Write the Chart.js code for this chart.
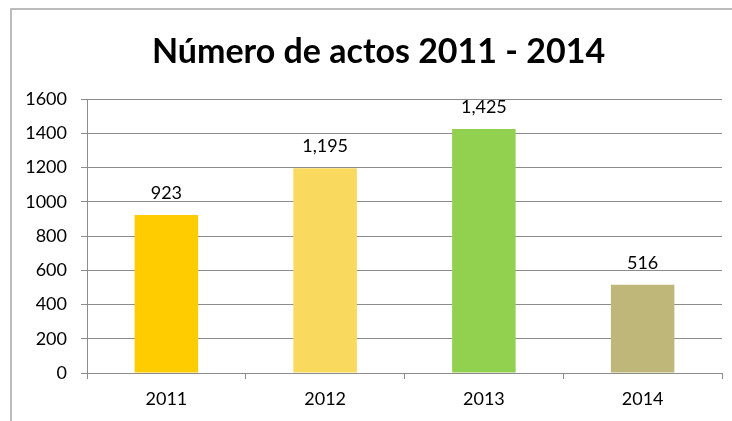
<!DOCTYPE html>
<html>
<head>
<meta charset="utf-8">
<script src="https://cdn.jsdelivr.net/npm/chart.js@4.4.1/dist/chart.umd.min.js"></script>
<style>
html,body{margin:0;padding:0;background:#fff;}
#wrap{width:732px;height:421px;}
</style>
</head>
<body>
<div id="wrap"><canvas id="c" width="732" height="421"></canvas></div>
<script>
const titleText = "Número de actos 2011 - 2014";
const categories = ["2011", "2012", "2013", "2014"];
const values = [923, 1195, 1425, 516];
const barColors = ["#FFCC00", "#F9DA5E", "#92D050", "#BFB77A"];
const yTicks = [0, 200, 400, 600, 800, 1000, 1200, 1400, 1600];

const FONT = "Lato, 'Open Sans', sans-serif";

const framePlugin = {
  id: 'frame',
  beforeDraw(chart) {
    const ctx = chart.ctx;
    ctx.save();
    ctx.fillStyle = '#fff';
    ctx.fillRect(0, 0, chart.width, chart.height);
    ctx.strokeStyle = '#a6a6a6';
    ctx.lineWidth = 1.5;
    ctx.beginPath();
    ctx.moveTo(11, chart.height);
    ctx.lineTo(11, 9);
    ctx.lineTo(chart.width, 9);
    ctx.stroke();
    // title
    ctx.font = "bold 34px " + FONT;
    ctx.fillStyle = '#000';
    ctx.textAlign = 'center';
    ctx.textBaseline = 'alphabetic';
    ctx.fillText(titleText, 378.5, 63);
    ctx.restore();
  }
};

const labelPlugin = {
  id: 'barLabels',
  afterDatasetsDraw(chart) {
    const ctx = chart.ctx;
    const meta = chart.getDatasetMeta(0);
    ctx.save();
    ctx.font = "18px " + FONT;
    ctx.fillStyle = '#000';
    ctx.textAlign = 'center';
    ctx.textBaseline = 'alphabetic';
    meta.data.forEach((bar, i) => {
      ctx.fillText(values[i].toLocaleString('en-US'), bar.x, bar.y - 16);
    });
    ctx.restore();
  }
};

new Chart(document.getElementById('c'), {
  type: 'bar',
  data: {
    labels: categories,
    datasets: [{
      data: values,
      backgroundColor: barColors,
      borderWidth: 0,
      barPercentage: 0.4,
      categoryPercentage: 1.0
    }]
  },
  options: {
    responsive: false,
    animation: false,
    devicePixelRatio: 1,
    layout: { padding: { left: 0, right: 10, top: 99, bottom: 0 } },
    plugins: {
      legend: { display: false },
      tooltip: { enabled: false },
      title: { display: false }
    },
    scales: {
      x: {
        offset: true,
        grid: {
          offset: true,
          drawOnChartArea: false,
          drawTicks: true,
          tickLength: 6,
          color: '#8c8c8c',
          lineWidth: 1
        },
        border: { display: true, color: '#8c8c8c', width: 1 },
        ticks: {
          color: '#000',
          padding: 9,
          font: { family: FONT, size: 18 }
        },
        afterFit(scale) { scale.height = 48; }
      },
      y: {
        min: 0,
        max: 1600,
        afterBuildTicks(scale) { scale.ticks = yTicks.map(v => ({ value: v })); },
        grid: {
          drawTicks: true,
          tickLength: 6,
          color: '#8c8c8c',
          lineWidth: 1
        },
        border: { display: true, color: '#8c8c8c', width: 1 },
        ticks: {
          color: '#000',
          padding: 14,
          font: { family: FONT, size: 18 },
          callback: (v) => String(v)
        },
        afterFit(scale) { scale.width = 87; }
      }
    }
  },
  plugins: [framePlugin, labelPlugin]
});
</script>
</body>
</html>
